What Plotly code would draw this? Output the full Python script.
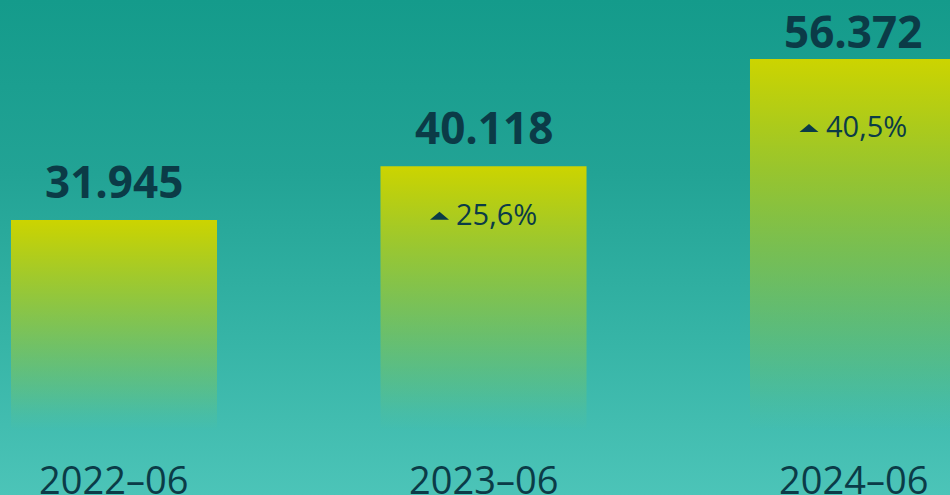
import plotly.graph_objects as go

# ---- data ----
categories = ["2022–06", "2023–06", "2024–06"]
values = [31945, 40118, 56372]
pct_change = [None, 25.6, 40.5]

# ---- layout constants ----
W, H = 950, 495
X_RANGE = [-0.3085, 2.2625]
Y_RANGE = [-9770, 65330]
BAR_HALF = 0.2788
PX_PER_UNIT = H / (Y_RANGE[1] - Y_RANGE[0])
PX_PER_X = W / (X_RANGE[1] - X_RANGE[0])

DARK = "#0b3b47"
FONT = "Open Sans"
VALUE_GAP_PX = 39        # distance from bar top to centre of value label
VALUE_TOP_PX = 31        # value label centre may not go higher than this
PCT_FRACTION = 0.82      # percent label sits at this fraction of bar height
TRI_W, TRI_H = 19, 8     # size of the up-triangle marker (px)
TRI_DX, TRI_DY = -44, 2  # triangle centre offset from bar centre / label centre (px)
PCT_DX = 13              # percent text offset from bar centre (px)


def fmt_thousands(v):
    return f"{v:,}".replace(",", ".")


def fmt_pct(p):
    return f"{p:.1f}".replace(".", ",") + "%"


fig = go.Figure()

# background gradient
fig.add_trace(go.Scatter(
    x=[X_RANGE[0], X_RANGE[1], X_RANGE[1], X_RANGE[0], X_RANGE[0]],
    y=[Y_RANGE[0], Y_RANGE[0], Y_RANGE[1], Y_RANGE[1], Y_RANGE[0]],
    mode="lines", fill="toself", line=dict(width=0, color="rgba(0,0,0,0)"),
    fillgradient=dict(
        type="vertical",
        colorscale=[[0, "#4cc4b8"], [0.3, "#37b5a7"], [0.65, "#22a395"], [1, "#149b8b"]],
        start=Y_RANGE[0], stop=Y_RANGE[1],
    ),
    hoverinfo="skip", showlegend=False,
))

# gradient bars
for i, v in enumerate(values):
    x0, x1 = i - BAR_HALF, i + BAR_HALF
    fig.add_trace(go.Scatter(
        x=[x0, x1, x1, x0, x0],
        y=[0, 0, v, v, 0],
        mode="lines", fill="toself", line=dict(width=0, color="rgba(0,0,0,0)"),
        fillgradient=dict(
            type="vertical",
            colorscale=[[0, "rgba(204,212,0,0)"], [0.08, "rgba(204,212,0,0.06)"],
                        [1, "rgba(204,212,0,1)"]],
            start=0, stop=v,
        ),
        hoverinfo="skip", showlegend=False,
    ))

annotations = []
zero_px = Y_RANGE[1] * PX_PER_UNIT  # pixel from top where value 0 sits
max_label_val = (zero_px - VALUE_TOP_PX) / PX_PER_UNIT
for i, v in enumerate(values):
    label_y = min(v + VALUE_GAP_PX / PX_PER_UNIT, max_label_val)
    annotations.append(dict(
        x=i, y=label_y, xref="x", yref="y", showarrow=False,
        text=f"<b>{fmt_thousands(v)}</b>", yanchor="middle", xanchor="center",
        font=dict(family=FONT, size=44, color=DARK),
    ))
    if pct_change[i] is not None:
        py = v * PCT_FRACTION
        annotations.append(dict(
            x=i, y=py, xref="x", yref="y", showarrow=False, xshift=PCT_DX,
            text=fmt_pct(pct_change[i]),
            yanchor="middle", xanchor="center",
            font=dict(family=FONT, size=29, color=DARK),
        ))
        # small flat up-triangle left of the percent text
        tcx = i + TRI_DX / PX_PER_X
        tcy = py - TRI_DY / PX_PER_UNIT
        hw = TRI_W / 2 / PX_PER_X
        hh = TRI_H / 2 / PX_PER_UNIT
        fig.add_trace(go.Scatter(
            x=[tcx - hw, tcx + hw, tcx, tcx - hw],
            y=[tcy - hh, tcy - hh, tcy + hh, tcy - hh],
            mode="lines", fill="toself", fillcolor=DARK,
            line=dict(width=0, color="rgba(0,0,0,0)"),
            hoverinfo="skip", showlegend=False,
        ))
    annotations.append(dict(
        x=i, y=(H - 478.5) / H, xref="x", yref="paper", showarrow=False,
        text=categories[i], yanchor="middle", xanchor="center",
        font=dict(family=FONT, size=38, color=DARK),
    ))

fig.update_layout(
    width=W, height=H,
    margin=dict(l=0, r=0, t=0, b=0),
    paper_bgcolor="#2aa89a", plot_bgcolor="rgba(0,0,0,0)",
    xaxis=dict(range=X_RANGE, visible=False, fixedrange=True),
    yaxis=dict(range=Y_RANGE, visible=False, fixedrange=True),
    annotations=annotations,
    hovermode=False,
    showlegend=False,
)

fig.write_html(
    "out.html",
    config={"displayModeBar": False, "staticPlot": True},
    post_script="document.body.style.margin='0';document.body.style.overflow='hidden';",
)
